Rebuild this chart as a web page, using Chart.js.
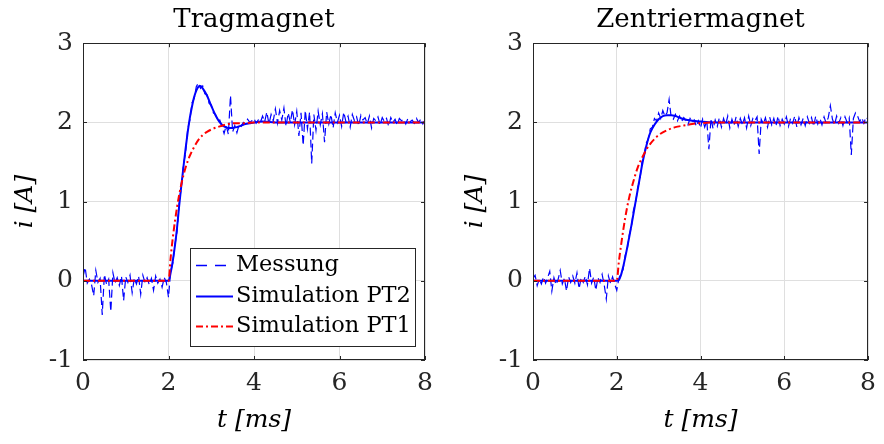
<!DOCTYPE html>
<html>
<head>
<meta charset="utf-8">
<script src="https://cdn.jsdelivr.net/npm/chart.js@4/dist/chart.umd.min.js"></script>
<style>
  body { margin: 0; background: #fff; }
  #wrap { position: relative; width: 884px; height: 444px; }
  canvas { position: absolute; top: 0; }
  #leftChart { left: 0; }
  #rightChart { left: 450px; }
</style>
</head>
<body>
<div id="wrap">
  <canvas id="leftChart" width="442" height="444"></canvas>
  <canvas id="rightChart" width="434" height="444"></canvas>
</div>
<script>
// Step response of the two magnets: measurement vs. PT2 / PT1 simulation
const titles = ['Tragmagnet', 'Zentriermagnet'];
const seriesLabels = ['Messung', 'Simulation PT2', 'Simulation PT1'];
const xTicks = [0, 2, 4, 6, 8];
const yTicks = [-1, 0, 1, 2, 3];

// measurement, sampled every 0.05 ms from 0 to 8 ms
const dtMessung = 0.05;
const messungTrag = [
  0.05, 0.17, -0.03, 0.02, -0.05, -0.19, 0.13, -0.02, 0.03, -0.43,
  0.08, -0.04, 0.02, -0.39, 0.10, -0.03, 0.04, -0.06, 0.06, -0.25,
  0.05, -0.02, 0.07, -0.15, 0.03, -0.04, 0.06, -0.17, 0.07, -0.02,
  0.04, -0.05, 0.03, -0.12, 0.06, -0.03, 0.02, -0.08, 0.04, -0.02,
  -0.21, 0.12, 0.22, 0.45, 0.62, 0.98, 1.18, 1.47, 1.62, 1.92,
  2.03, 2.25, 2.30, 2.45, 2.50, 2.43, 2.46, 2.36, 2.35, 2.24,
  2.22, 2.12, 2.10, 2.02, 2.03, 1.95, 1.86, 1.96, 1.85, 2.34,
  1.88, 1.96, 1.87, 1.97, 1.95, 2.00, 1.98, 2.04, 2.00, 2.02,
  2.05, 1.99, 2.03, 2.00, 2.08, 2.01, 2.13, 1.98, 2.10, 2.02,
  2.17, 1.99, 2.15, 2.03, 2.18, 1.95, 2.12, 2.00, 2.16, 1.97,
  2.14, 1.83, 2.12, 1.71, 2.15, 1.92, 2.13, 1.48, 2.10, 1.90,
  2.14, 1.97, 2.11, 1.75, 2.13, 1.98, 2.10, 1.93, 2.12, 2.00,
  2.09, 1.95, 2.13, 2.01, 2.08, 1.94, 2.10, 2.02, 2.07, 1.96,
  2.09, 2.03, 2.06, 1.98, 2.08, 1.93, 2.05, 2.02, 2.07, 1.97,
  2.06, 2.01, 2.05, 1.95, 2.06, 2.00, 2.04, 1.97, 2.05, 2.02,
  2.04, 1.98, 2.05, 2.01, 2.03, 1.99, 2.05, 2.00, 2.04, 1.98,
  2.03
];
const messungZentr = [
  0.03, 0.07, -0.06, 0.02, -0.04, 0.05, -0.03, 0.04, 0.12, -0.13,
  0.04, -0.05, 0.02, 0.13, -0.04, 0.03, -0.13, 0.05, -0.02, 0.06,
  -0.03, 0.10, -0.10, 0.04, -0.02, 0.06, -0.05, 0.16, -0.03, 0.05,
  -0.12, 0.04, -0.02, 0.08, -0.05, -0.23, 0.06, -0.03, 0.05, -0.04,
  -0.12, 0.03, 0.10, 0.14, 0.32, 0.40, 0.58, 0.68, 0.90, 0.98,
  1.18, 1.26, 1.50, 1.55, 1.74, 1.78, 1.92, 1.94, 2.05, 2.02,
  2.12, 2.05, 2.15, 2.08, 2.12, 2.29, 2.06, 2.04, 2.10, 2.02,
  2.08, 2.01, 2.06, 2.03, 1.97, 2.05, 2.00, 2.03, 1.95, 2.02,
  1.93, 2.04, 1.94, 2.02, 1.66, 2.05, 1.92, 2.03, 1.95, 2.06,
  1.94, 2.05, 1.97, 2.08, 1.93, 2.04, 1.96, 2.07, 1.95, 2.05,
  1.97, 2.06, 1.93, 2.08, 1.96, 2.05, 2.02, 2.07, 1.60, 2.04,
  1.98, 2.06, 1.94, 2.07, 1.97, 2.05, 1.95, 2.08, 1.96, 2.04,
  1.98, 2.07, 1.95, 2.05, 1.99, 2.08, 1.94, 2.06, 1.97, 2.05,
  1.96, 2.07, 1.99, 2.06, 1.95, 2.08, 1.98, 2.05, 1.97, 2.07,
  1.99, 2.06, 2.21, 2.04, 1.97, 2.08, 1.99, 2.06, 1.96, 2.07,
  2.00, 2.06, 1.59, 2.05, 2.12, 2.08, 2.01, 2.06, 1.99, 2.07,
  2.04
];

// simulation curves (time in ms, current in A)
const tPT2Trag = [0, 2, 2.05, 2.1, 2.15, 2.2, 2.25, 2.3, 2.35, 2.4, 2.45, 2.5, 2.55, 2.6, 2.65, 2.7, 2.75, 2.8, 2.9, 3.0, 3.1, 3.2, 3.3, 3.4, 3.5, 3.6, 3.7, 3.8, 3.9, 4.0, 4.2, 4.5, 5, 8];
const pt2Trag = [0, 0, 0.10, 0.25, 0.44, 0.67, 0.95, 1.20, 1.44, 1.67, 1.88, 2.06, 2.20, 2.32, 2.40, 2.45, 2.46, 2.43, 2.34, 2.21, 2.09, 2.00, 1.95, 1.93, 1.93, 1.94, 1.96, 1.98, 1.99, 2.00, 2.01, 2.00, 2.00, 2.00];
const tPT1Trag = [0, 2, 2.05, 2.1, 2.2, 2.3, 2.4, 2.5, 2.6, 2.7, 2.8, 2.9, 3.0, 3.2, 3.4, 3.6, 3.8, 4.0, 4.5, 5, 8];
const pt1Trag = [0, 0, 0.29, 0.54, 0.93, 1.22, 1.43, 1.58, 1.69, 1.78, 1.84, 1.88, 1.91, 1.95, 1.98, 1.99, 1.99, 2.00, 2.00, 2.00, 2.00];

const tPT2Zentr = [0, 2, 2.05, 2.1, 2.15, 2.2, 2.25, 2.3, 2.35, 2.4, 2.45, 2.5, 2.55, 2.6, 2.65, 2.7, 2.75, 2.8, 2.9, 3.0, 3.1, 3.2, 3.3, 3.4, 3.5, 3.6, 3.7, 3.8, 4.0, 4.3, 5, 8];
const pt2Zentr = [0, 0, 0.01, 0.07, 0.17, 0.29, 0.42, 0.56, 0.70, 0.85, 1.00, 1.15, 1.30, 1.45, 1.58, 1.69, 1.79, 1.87, 1.97, 2.04, 2.08, 2.09, 2.09, 2.08, 2.06, 2.04, 2.03, 2.02, 2.01, 2.00, 2.00, 2.00];
const tPT1Zentr = [0, 2, 2.05, 2.1, 2.2, 2.3, 2.4, 2.5, 2.6, 2.7, 2.8, 2.9, 3.0, 3.2, 3.4, 3.6, 3.8, 4.0, 4.4, 5, 8];
const pt1Zentr = [0, 0, 0.24, 0.44, 0.79, 1.06, 1.26, 1.43, 1.55, 1.65, 1.73, 1.79, 1.84, 1.90, 1.94, 1.96, 1.98, 1.99, 2.00, 2.00, 2.00];

const FONT = "'DejaVu Serif', serif";
const AXIS_COLOR = '#262626';

function toPoints(t, v) {
    return v.map((y, i) => ({ x: t[i], y: y }));
}
function sampled(v) {
    return v.map((y, i) => ({ x: i * dtMessung, y: y }));
}

// box round the plot area plus the small inward ticks
const boxPlugin = {
    id: 'box',
    afterDatasetsDraw(chart) {
        const { ctx, chartArea: a, scales } = chart;
        ctx.save();
        ctx.strokeStyle = AXIS_COLOR;
        ctx.lineWidth = 1;
        ctx.strokeRect(Math.round(a.left) + 0.5, Math.round(a.top) + 0.5,
            Math.round(a.right - a.left) - 1, Math.round(a.bottom - a.top) - 1);
        ctx.beginPath();
        xTicks.forEach(v => {
            const x = Math.round(scales.x.getPixelForValue(v)) + 0.5;
            ctx.moveTo(x, a.top); ctx.lineTo(x, a.top + 4);
            ctx.moveTo(x, a.bottom); ctx.lineTo(x, a.bottom - 4);
        });
        yTicks.forEach(v => {
            const y = Math.round(scales.y.getPixelForValue(v)) + 0.5;
            ctx.moveTo(a.left, y); ctx.lineTo(a.left + 4, y);
            ctx.moveTo(a.right, y); ctx.lineTo(a.right - 4, y);
        });
        ctx.stroke();
        ctx.restore();
    }
};

// legend box inside the plot area, lower right
const insideLegend = {
    id: 'insideLegend',
    afterDraw(chart, args, opts) {
        if (!opts.show) return;
        const { ctx, chartArea: a } = chart;
        const w = 225, h = 98;
        const left = a.right - 10 - w, top = a.bottom - 14 - h;
        ctx.save();
        ctx.fillStyle = '#fff';
        ctx.fillRect(left, top, w, h);
        ctx.strokeStyle = AXIS_COLOR;
        ctx.lineWidth = 1;
        ctx.strokeRect(Math.round(left) + 0.5, Math.round(top) + 0.5, w, h);
        ctx.font = '22.5px ' + FONT;
        ctx.textBaseline = 'middle';
        ctx.fillStyle = '#000';
        const rows = [17, 48, 78];
        const items = [...chart.data.datasets].sort((p, q) => q.order - p.order);
        items.forEach((ds, i) => {
            const y = Math.round(top + rows[i]) + 0.5;
            ctx.strokeStyle = ds.borderColor;
            ctx.lineWidth = Math.max(ds.borderWidth, 1.5);
            ctx.setLineDash(i === 0 ? [11, 8] : (ds.borderDash || []));
            ctx.beginPath();
            ctx.moveTo(left + 6, y);
            ctx.lineTo(left + 43, y);
            ctx.stroke();
            ctx.setLineDash([]);
            ctx.fillText(ds.label, left + 46, y);
        });
        ctx.restore();
    }
};

function makeChart(canvasId, title, mess, tPT2, pt2, tPT1, pt1, rightPad, showLegend) {
    const ctx = document.getElementById(canvasId).getContext('2d');
    return new Chart(ctx, {
        type: 'line',
        data: {
            datasets: [
                {
                    label: seriesLabels[0],
                    data: sampled(mess),
                    borderColor: '#0000ff',
                    borderWidth: 1.2,
                    borderDash: [8, 4],
                    pointRadius: 0,
                    tension: 0,
                    order: 3
                },
                {
                    label: seriesLabels[1],
                    data: toPoints(tPT2, pt2),
                    borderColor: '#0000ff',
                    borderWidth: 2,
                    pointRadius: 0,
                    cubicInterpolationMode: 'monotone',
                    order: 2
                },
                {
                    label: seriesLabels[2],
                    data: toPoints(tPT1, pt1),
                    borderColor: '#ff0000',
                    borderWidth: 2,
                    borderDash: [7, 3, 2, 3],
                    pointRadius: 0,
                    cubicInterpolationMode: 'monotone',
                    order: 1
                }
            ]
        },
        options: {
            responsive: false,
            animation: false,
            devicePixelRatio: 1,
            layout: { padding: { left: 0, right: rightPad, top: 0, bottom: 0 } },
            plugins: {
                legend: { display: false },
                tooltip: { enabled: false },
                title: {
                    display: true,
                    text: title,
                    fullSize: false,
                    color: '#000',
                    font: { family: FONT, size: 26, weight: 'normal' },
                    padding: { top: 5, bottom: 7 }
                },
                insideLegend: { show: showLegend }
            },
            scales: {
                x: {
                    type: 'linear',
                    min: 0,
                    max: 8,
                    afterFit: s => { s.height = 84; },
                    afterBuildTicks: s => { s.ticks = xTicks.map(v => ({ value: v })); },
                    border: { display: false },
                    grid: { color: '#dfdfdf', lineWidth: 1, drawTicks: false },
                    ticks: {
                        color: AXIS_COLOR,
                        padding: 8,
                        maxRotation: 0,
                        font: { family: FONT, size: 25 }
                    },
                    title: {
                        display: true,
                        text: 't [ms]',
                        color: '#000',
                        font: { family: FONT, size: 25, style: 'italic' },
                        padding: { top: 0, bottom: 9 }
                    }
                },
                y: {
                    min: -1,
                    max: 3,
                    afterFit: s => { s.width = 83; },
                    afterBuildTicks: s => { s.ticks = yTicks.map(v => ({ value: v })); },
                    border: { display: false },
                    grid: { color: '#dfdfdf', lineWidth: 1, drawTicks: false },
                    ticks: {
                        color: AXIS_COLOR,
                        padding: 10,
                        font: { family: FONT, size: 25 }
                    },
                    title: {
                        display: true,
                        text: 'i [A]',
                        color: '#000',
                        font: { family: FONT, size: 25, style: 'italic' },
                        padding: { top: 10, bottom: 0 }
                    }
                }
            }
        },
        plugins: [boxPlugin, insideLegend]
    });
}

document.addEventListener('DOMContentLoaded', function() {
    makeChart('leftChart', titles[0], messungTrag, tPT2Trag, pt2Trag, tPT1Trag, pt1Trag, 17, true);
    makeChart('rightChart', titles[1], messungZentr, tPT2Zentr, pt2Zentr, tPT1Zentr, pt1Zentr, 9, false);
});
</script>
</body>
</html>
